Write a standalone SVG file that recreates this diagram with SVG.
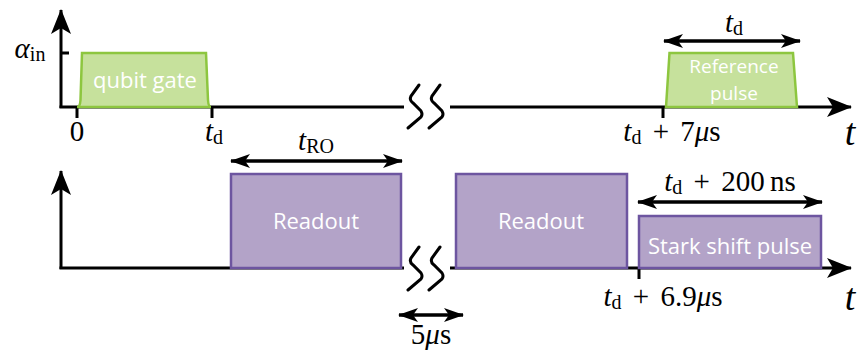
<svg xmlns="http://www.w3.org/2000/svg" width="859" height="350" viewBox="0 0 859 350">
<defs>
<marker id="ah" viewBox="0 0 25 20" refX="24" refY="10" markerWidth="25" markerHeight="20" markerUnits="userSpaceOnUse" orient="auto-start-reverse">
<path d="M0,0 L25,10 L0,20 L6,10 Z" fill="#000"/>
</marker>
<marker id="ahs" viewBox="0 0 20 14" refX="19" refY="7" markerWidth="20" markerHeight="14" markerUnits="userSpaceOnUse" orient="auto-start-reverse">
<path d="M0,0 L20,7 L0,14 L5,7 Z" fill="#000"/>
</marker>
</defs>
<style>
.ax{stroke:#000;stroke-width:3;fill:none}
.tk{stroke:#000;stroke-width:3}
.dim{stroke:#000;stroke-width:3.5;fill:none}
.green{fill:#c6e19c;stroke:#8dc63f;stroke-width:2.5}
.purple{fill:#b3a3c8;stroke:#6d55a0;stroke-width:2.5}
.lbl{font-family:"Open Sans","Noto Sans",sans-serif;font-size:22px;fill:#fff;text-anchor:middle}
.sm{font-size:19px}
.m{font-family:"Liberation Serif","DejaVu Serif",serif;font-size:29px;fill:#000;text-anchor:middle}
.it{font-style:italic}
.sub{font-size:20px}
.big{font-family:"Liberation Serif","DejaVu Serif",serif;font-size:38px;font-style:italic;fill:#000;text-anchor:middle}
.brk{stroke:#000;stroke-width:3;fill:none;stroke-linecap:round}
</style>
<g id="connectors">
<line class="ax" x1="61" y1="108" x2="61" y2="10" marker-end="url(#ah)"/>
<line class="ax" x1="59.5" y1="107" x2="404" y2="107"/>
<line class="ax" x1="450" y1="107" x2="851" y2="107" marker-end="url(#ah)"/>
<line class="tk" x1="60" y1="53" x2="69" y2="53"/>
<line class="tk" x1="77" y1="107" x2="77" y2="118"/>
<line class="tk" x1="212" y1="107" x2="212" y2="118"/>
<line class="tk" x1="663" y1="107" x2="663" y2="118"/>
<line class="ax" x1="61" y1="269" x2="61" y2="171" marker-end="url(#ah)"/>
<line class="ax" x1="59.5" y1="268" x2="404" y2="268"/>
<line class="ax" x1="450" y1="268" x2="851" y2="268" marker-end="url(#ah)"/>
<line class="tk" x1="639" y1="268" x2="639" y2="279"/>
<line class="dim" x1="664" y1="41" x2="800" y2="41" marker-start="url(#ahs)" marker-end="url(#ahs)"/>
<line class="dim" x1="231" y1="161" x2="402" y2="161" marker-start="url(#ahs)" marker-end="url(#ahs)"/>
<line class="dim" x1="638" y1="202" x2="822" y2="202" marker-start="url(#ahs)" marker-end="url(#ahs)"/>
<line class="dim" x1="399" y1="315" x2="463" y2="315" marker-start="url(#ahs)" marker-end="url(#ahs)"/>
<path class="brk" d="M419,85 L411,96 Q409,100 413,103 L421,111 Q423,114 421,117 L408,128"/>
<path class="brk" d="M440,85 L432,96 Q430,100 434,103 L442,111 Q444,114 442,117 L429,128"/>
<path class="brk" d="M419,247 L411,258 Q409,262 413,265 L421,273 Q423,276 421,279 L408,290"/>
<path class="brk" d="M440,247 L432,258 Q430,262 434,265 L442,273 Q444,276 442,279 L429,290"/>
</g>
<g id="qubit-gate">
<path class="green" d="M77,107 Q80,107 80.5,100 L82,53 L206,53 L208,100 Q208.5,107 211,107 Z"/>
<text class="lbl" x="145" y="88">qubit gate</text>
</g>
<g id="reference-pulse">
<path class="green" d="M666,107 L669.5,53 L793,53 L797,107 Z"/>
<text class="lbl sm" x="734" y="73">Reference</text>
<text class="lbl sm" x="734" y="100">pulse</text>
</g>
<g id="readout-1">
<rect class="purple" x="231" y="174" width="170" height="94"/>
<text class="lbl" x="316" y="229">Readout</text>
</g>
<g id="readout-2">
<rect class="purple" x="456" y="174" width="171" height="94"/>
<text class="lbl" x="541" y="229">Readout</text>
</g>
<g id="stark-shift">
<rect class="purple" x="639" y="216" width="182" height="52"/>
<text class="lbl" x="730" y="254">Stark shift pulse</text>
</g>
<g id="labels">
<text class="m" x="30" y="58"><tspan class="it">α</tspan><tspan class="sub" dy="3">in</tspan></text>
<text class="m" x="77" y="141">0</text>
<text class="m" x="214" y="141"><tspan class="it">t</tspan><tspan class="sub" dy="3">d</tspan></text>
<text class="m" x="672" y="141"><tspan class="it">t</tspan><tspan class="sub" dy="3">d</tspan><tspan dy="-3" dx="4"> + </tspan><tspan dx="4">7</tspan><tspan class="it">μ</tspan>s</text>
<text class="m" x="734" y="32"><tspan class="it">t</tspan><tspan class="sub" dy="3">d</tspan></text>
<text class="m" x="316" y="150"><tspan class="it">t</tspan><tspan class="sub" dy="3">RO</tspan></text>
<text class="m" x="730" y="191"><tspan class="it">t</tspan><tspan class="sub" dy="3">d</tspan><tspan dy="-3" dx="4"> + </tspan><tspan dx="4">200</tspan><tspan dx="-2"> ns</tspan></text>
<text class="m" x="663" y="306"><tspan class="it">t</tspan><tspan class="sub" dy="3">d</tspan><tspan dy="-3" dx="4"> + </tspan><tspan dx="4">6.9</tspan><tspan class="it">μ</tspan>s</text>
<text class="m" x="431" y="344">5<tspan class="it">μ</tspan>s</text>
<text class="big" x="850" y="145">t</text>
<text class="big" x="850" y="310">t</text>
</g>
</svg>
